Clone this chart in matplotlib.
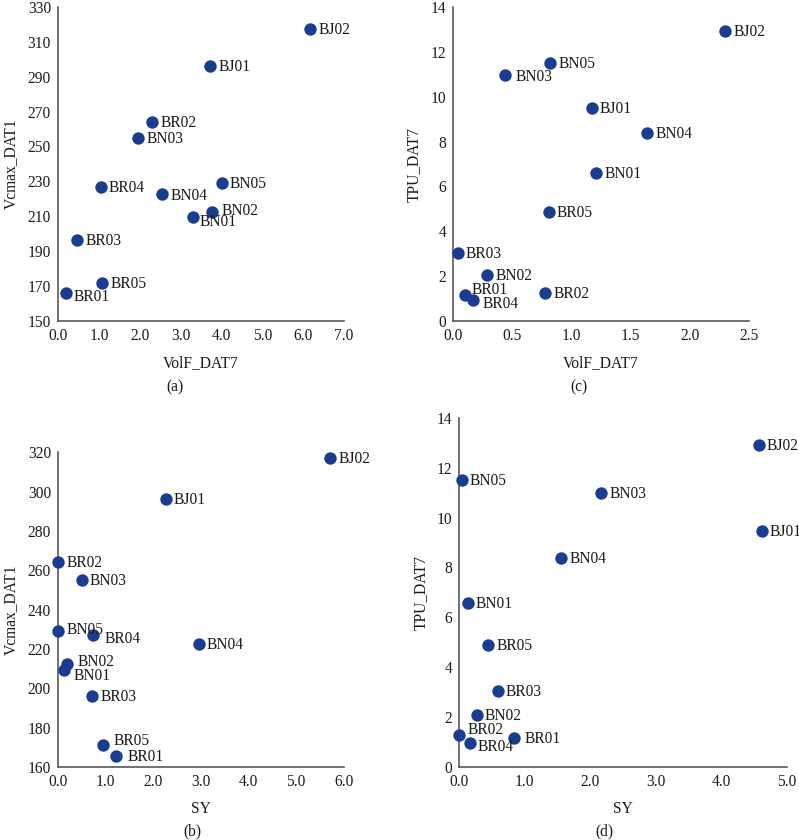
import matplotlib
matplotlib.use("Agg")
import matplotlib.pyplot as plt

plt.rcParams['font.family'] = ['Liberation Serif', 'DejaVu Serif']

# data
genotypes = ["BJ02", "BJ01", "BR02", "BN03", "BN05", "BR04",
             "BN04", "BN02", "BN01", "BR03", "BR05", "BR01"]
volf_dat7_a = [6.17, 3.73, 2.31, 1.96, 4.01, 1.05, 2.54, 3.77, 3.30, 0.47, 1.08, 0.20]
volf_dat7_c = [2.30, 1.17, 0.78, 0.44, 0.82, 0.17, 1.64, 0.29, 1.21, 0.04, 0.81, 0.10]
sy = [5.72, 2.26, 0.01, 0.50, 0.01, 0.74, 2.96, 0.18, 0.13, 0.72, 0.95, 1.21]
sy_d = [4.57, 4.62, 0.00, 2.17, 0.04, 0.16, 1.56, 0.27, 0.13, 0.59, 0.44, 0.84]
vcmax_dat1 = [317.2, 296.2, 264.1, 255.0, 229.1, 226.9, 222.5, 212.6, 209.3, 196.1, 171.4, 165.8]
tpu_dat7 = [12.9, 9.48, 1.26, 10.98, 11.5, 0.95, 8.38, 2.06, 6.58, 3.05, 4.87, 1.17]

BLUE = "#1b3d8f"
SPINE = "#595959"
FS = 11.2

# label offsets in pixels (dx right, dy up), default (8, -1)
offs_a = {"BN01": (7, -5), "BR01": (7, -4), "BN04": (9, -1.5), "BN02": (9, 1)}
offs_c = {"BR01": (7, 5), "BR04": (9, -4.5), "BN03": (10, -2)}
offs_b = {"BN05": (8, 1), "BR04": (11, -4), "BN02": (10.5, 1.5), "BN01": (9, -6),
          "BR05": (10.5, 3.5), "BR01": (11.5, -1.5)}
offs_d = {"BR02": (8, 5.5), "BR04": (7.5, -4), "BR01": (10.5, -1)}


def scatter_panel(fig, rect, x, y, offs, xlim, xticks, xfmt, ylim, yticks,
                  xlabel, ylabel, caption, cap_xy):
    ax = fig.add_axes(rect)
    ax.scatter(x, y, s=80, color=BLUE, zorder=3, clip_on=False, linewidths=0)
    for name, xi, yi in zip(genotypes, x, y):
        dx, dy = offs.get(name, (8, -1))
        ax.annotate(name, (xi, yi), xytext=(dx * 0.72, dy * 0.72),
                    textcoords="offset points", ha="left", va="center",
                    fontsize=FS, color="#1a1a1a")
    ax.set_xlim(*xlim)
    ax.set_ylim(*ylim)
    ax.set_xticks(xticks)
    ax.set_xticklabels([xfmt.format(t) for t in xticks])
    ax.set_yticks(yticks)
    for s in ["top", "right"]:
        ax.spines[s].set_visible(False)
    for s in ["left", "bottom"]:
        ax.spines[s].set_color(SPINE)
        ax.spines[s].set_linewidth(1.2)
    ax.tick_params(length=0, labelsize=FS, colors="#1a1a1a", pad=5)
    ax.set_xlabel(xlabel, fontsize=FS, labelpad=8, color="#1a1a1a")
    ax.set_ylabel(ylabel, fontsize=FS, labelpad=6, color="#1a1a1a")
    fig.text(cap_xy[0] / 799, 1 - cap_xy[1] / 840, caption, ha="center",
             va="center", fontsize=FS, color="#1a1a1a")
    return ax


fig = plt.figure(figsize=(7.99, 8.4), dpi=100)

scatter_panel(fig, [0.0726, 0.6182, 0.358, 0.3735], volf_dat7_a, vcmax_dat1, offs_a,
              (0, 7), [0, 1, 2, 3, 4, 5, 6, 7], "{:.1f}", (150, 330),
              range(150, 331, 20), "VolF_DAT7", "Vcmax_DAT1", "(a)", (175, 387))

scatter_panel(fig, [0.567, 0.6175, 0.3705, 0.3745], volf_dat7_c, tpu_dat7, offs_c,
              (0, 2.5), [0, 0.5, 1.0, 1.5, 2.0, 2.5], "{:.1f}", (0, 14),
              range(0, 15, 2), "VolF_DAT7", "TPU_DAT7", "(c)", (579, 387))

scatter_panel(fig, [0.0726, 0.0869, 0.3576, 0.3746], sy, vcmax_dat1, offs_b,
              (0, 6), [0, 1, 2, 3, 4, 5, 6], "{:.1f}", (160, 320),
              range(160, 321, 20), "SY", "Vcmax_DAT1", "(b)", (192, 831))

scatter_panel(fig, [0.5748, 0.0873, 0.4098, 0.4152], sy_d, tpu_dat7, offs_d,
              (0, 5), [0, 1, 2, 3, 4, 5], "{:.1f}", (0, 14),
              range(0, 15, 2), "SY", "TPU_DAT7", "(d)", (604, 831))

fig.savefig("out.png", dpi=100)
